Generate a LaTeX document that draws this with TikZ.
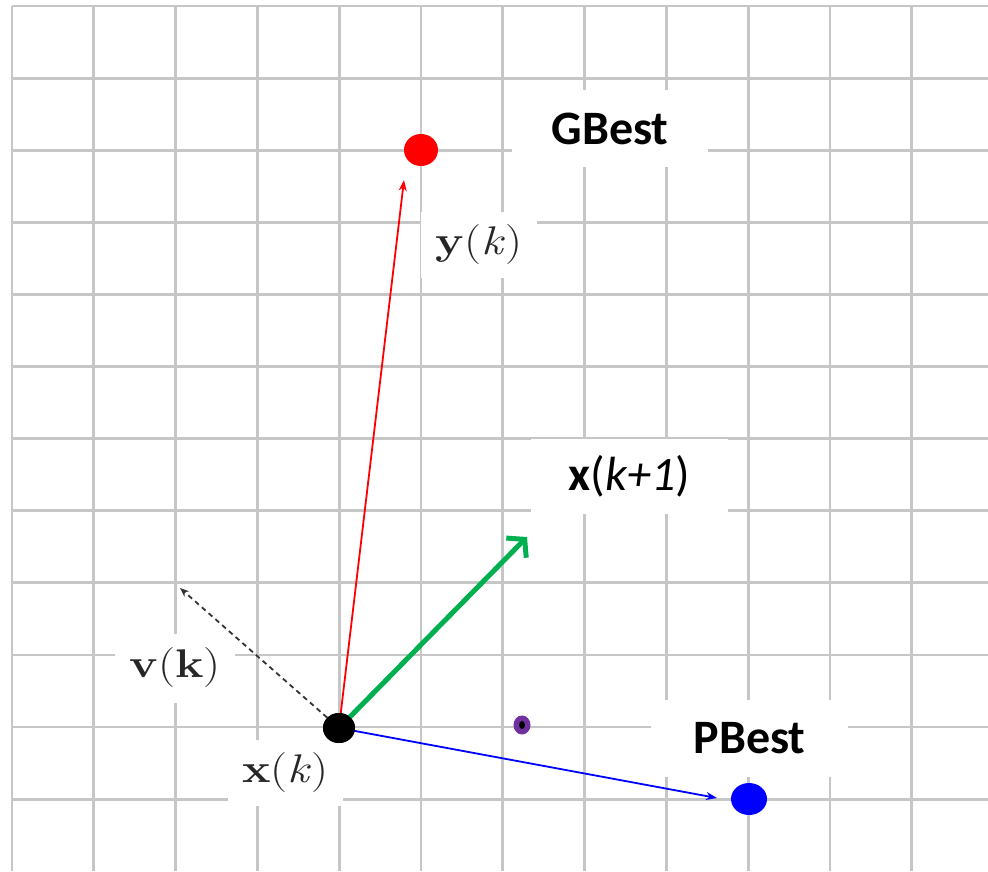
\documentclass[tikz,border=0pt]{standalone}
\usepackage{fontspec}
\newfontfamily\calib{Carlito}
\newfontfamily\lmr{Latin Modern Roman}
\usetikzlibrary{arrows.meta}
\usetikzlibrary{shapes.geometric}
\definecolor{gridc}{RGB}{198,198,198}
\definecolor{pgreen}{RGB}{0,176,80}
\definecolor{ppurple}{RGB}{112,48,160}
\tikzset{
  gridline/.style={draw=gridc,line width=2.8pt},
  lbox/.style={fill=white,inner sep=0pt,font=\calib\fontsize{48}{58}\selectfont},
  mbox/.style={fill=white,inner sep=0pt,text=black!85,font=\lmr\fontsize{40}{48}\selectfont},
  dot/.style={ellipse,inner sep=0pt},
  thinarrow/.style={line width=1.8pt,-{Stealth[length=11pt,width=8pt]}},
}
\begin{document}
\begin{tikzpicture}[x=1pt,y=-1pt]
\useasboundingbox (0,0) rectangle (988,871);
% grid
\foreach \i in {0,...,11} {
  \draw[gridline] (12+81.8*\i,6) -- (12+81.8*\i,871);
}
\foreach \j in {0,...,11} {
  \draw[gridline] (12,6+72.1*\j) -- (988,6+72.1*\j);
}
% label boxes
\node[lbox,minimum width=196pt,minimum height=77pt] (gbest) at (610,128.5) {\bfseries GBest};
\node[lbox,minimum width=197pt,minimum height=75pt] (xk1) at (629.5,476.5) {\textbf{x}(\textit{k+1})};
\node[lbox,minimum width=197pt,minimum height=77pt] (pbest) at (749.5,738.5) {\bfseries PBest};
\node[mbox,minimum width=116pt,minimum height=66pt] (yk) at (479,245) {\scalebox{1.2}[1]{\textbf{y}(\textit{k})}};
\node[mbox,minimum width=120pt,minimum height=69pt] (vk) at (175,668) {\scalebox{1.2}[1]{\textbf{v}(\textbf{k})}};
\node[mbox,minimum width=115pt,minimum height=66pt] (xk) at (285.5,773) {\scalebox{1.2}[1]{\textbf{x}(\textit{k})}};
% dots
\node[dot,fill=black,minimum width=32pt,minimum height=30pt] (cur) at (339,728) {};
\node[dot,fill=red,minimum width=34pt,minimum height=32pt] (gdot) at (421,150) {};
\node[dot,fill=blue,minimum width=36pt,minimum height=32pt] (pdot) at (749,799) {};
\node[dot,fill=ppurple,minimum width=17pt,minimum height=19pt] (mid) at (522,725) {};
\node[dot,fill=black,minimum width=6pt,minimum height=8pt] (midc) at (522,725) {};
% arrow ends
\coordinate (redend) at (404,180);
\coordinate (greenend) at (527,537);
\coordinate (blueend) at (717,798);
\coordinate (vend) at (180,588);
% arrows
\draw[thinarrow,red] (cur.center) -- (redend);
\draw[thinarrow,blue] (cur.center) -- (blueend);
\draw[black!80,line width=1.8pt,dash pattern=on 5pt off 4pt,-{Stealth[length=9pt,width=7pt]}] (cur) -- (vend);
\draw[pgreen,line width=5pt,-{Straight Barb[length=12pt,width=28pt]}] (cur.center) -- (greenend);
\node[dot,fill=black,minimum width=32pt,minimum height=30pt] at (cur) {};
\end{tikzpicture}
\end{document}
